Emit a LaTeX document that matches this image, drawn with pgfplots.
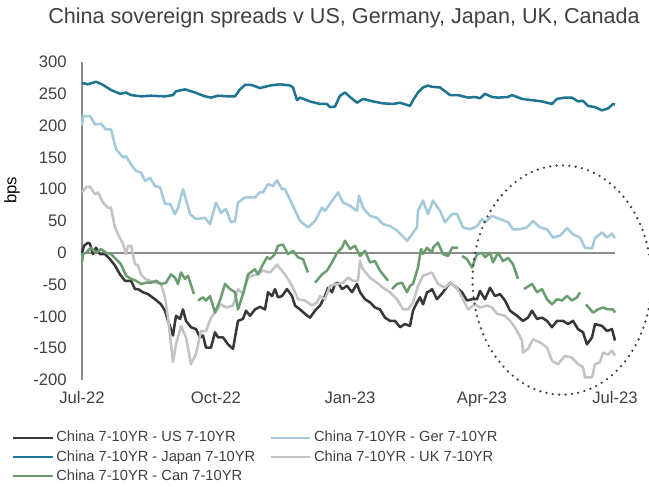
\documentclass[border=0pt]{standalone}
\usepackage{pgfplots}
\pgfplotsset{compat=1.18}
\usepackage{fontspec}
\setmainfont{Liberation Sans}
\definecolor{cUS}{HTML}{383838}
\definecolor{cGer}{HTML}{A3C9DB}
\definecolor{cJap}{HTML}{1F7591}
\definecolor{cUK}{HTML}{C3C3C3}
\definecolor{cCan}{HTML}{6C9D70}
\definecolor{axgray}{HTML}{8C8C8C}
\definecolor{txtgray}{HTML}{404040}
\begin{document}
\begin{tikzpicture}[x=1pt,y=1pt]
\useasboundingbox (0,0) rectangle (486.75,364.5);
\begin{axis}[
  at={(61.5pt,79.5pt)}, anchor=south west,
  scale only axis, width=399.75pt, height=238.5pt,
  xmin=0, xmax=533, ymin=-200, ymax=300,
  axis y line*=left, axis x line*=bottom,
  x axis line style={draw=none},
  y axis line style={draw=axgray, line width=1.1pt},
  xtick={0,134,268,400,533},
  xticklabels={Jul-22,Oct-22,Jan-23,Apr-23,Jul-23},
  ytick={-200,-150,-100,-50,0,50,100,150,200,250,300},
  major tick length=0pt,
  tick label style={font=\fontsize{12.5}{15}\selectfont, text=txtgray},
  /pgf/number format/assume math mode=true,
  yticklabel shift=8pt,
  xticklabel shift=5pt,
  unbounded coords=jump,
  clip=false,
  title={China sovereign spreads v US, Germany, Japan, UK, Canada},
  title style={at={(axis description cs:0.4916,1.113)}, anchor=center, font=\fontsize{16.2}{19}\selectfont, text=txtgray},
  ylabel={bps},
  ylabel style={at={(axis description cs:-0.131,0.597)}, anchor=center, rotate=0, font=\fontsize{12.5}{15}\selectfont, text=black},
  legend columns=2,
  legend style={at={(axis description cs:-0.1315,-0.152)}, anchor=north west, draw=none, fill=none,
    inner sep=0pt, font=\fontsize{11}{13}\selectfont, text=txtgray,
    cells={anchor=west}, row sep=1pt,
    /tikz/every even column/.append style={column sep=9pt}},
  legend image code/.code={\draw[#1, line width=1.6pt] (0pt,0pt) -- (29.5pt,0pt);},
  every axis plot/.append style={line width=1.9pt, line join=round},
]
\addplot[draw=axgray, line width=1.1pt, forget plot] coordinates {(0,0) (533,0)};
% China - US
\addplot[cUS] coordinates {
(0,0) (2,11) (6,16) (8,14) (10,3) (11,-2) (14,8) (18,-2) (23,-2) (28,-10) (33,-20) (38,-34) (43,-44) (49,-44) (53,-57) (56,-57) (61,-62) (66,-65) (73,-73) (79,-81) (83,-91) (86,-107) (91,-130) (94,-99) (98,-104) (101,-89) (104,-107) (109,-117) (114,-120) (118,-133) (121,-130) (124,-149) (129,-149) (133,-125) (136,-133) (141,-133) (146,-144) (151,-151) (156,-107) (161,-104) (164,-91) (168,-99) (173,-89) (178,-85) (183,-89) (186,-62) (190,-68) (193,-57) (196,-70) (200,-68) (205,-57) (210,-68) (213,-83) (218,-89) (223,-96) (228,-102) (233,-91) (238,-83) (243,-68) (246,-55) (250,-62) (253,-49) (256,-47) (260,-57) (265,-52) (270,-62) (275,-49) (278,-62) (283,-73) (288,-78) (293,-86) (298,-89) (303,-102) (308,-107) (313,-107) (318,-117) (323,-112) (328,-115) (331,-91) (335,-78) (338,-70) (341,-81) (345,-62) (348,-60) (350,-57) (355,-73) (361,-62) (368,-47) (375,-55) (380,-62) (385,-75) (390,-73) (395,-73) (398,-60) (403,-73) (408,-55) (413,-68) (418,-65) (423,-75) (428,-91) (435,-99) (441,-107) (446,-102) (450,-91) (455,-104) (460,-102) (465,-107) (470,-117) (475,-107) (481,-107) (486,-112) (491,-107) (496,-120) (501,-125) (505,-144) (510,-133) (513,-112) (520,-115) (525,-123) (530,-120) (533,-138)
};
\addlegendentry{China 7-10YR - US 7-10YR}
% China - Ger
\addplot[cGer] coordinates {
(0,200) (1,215) (8,215) (13,202) (19,203) (24,194) (29,194) (34,163) (41,150) (44,152) (49,139) (54,129) (59,126) (63,113) (68,118) (73,105) (78,103) (83,77) (88,77) (93,61) (96,71) (101,100) (108,61) (114,53) (123,55) (128,45) (134,79) (139,63) (144,69) (149,48) (153,50) (156,79) (163,87) (168,87) (173,87) (178,95) (181,95) (186,108) (191,105) (195,114) (200,100) (203,100) (210,77) (218,50) (226,40) (233,50) (240,71) (243,66) (248,77) (256,95) (261,79) (268,74) (275,66) (277,90) (281,71) (288,58) (295,55) (301,45) (308,42) (315,35) (320,27) (325,19) (328,25) (335,40) (336,66) (341,82) (346,61) (351,82) (358,66) (363,48) (370,61) (375,61) (381,40) (388,37) (395,42) (400,53) (403,48) (410,58) (418,53) (426,48) (431,37) (438,37) (445,40) (451,50) (458,40) (465,37) (471,24) (478,27) (485,39) (491,29) (498,24) (503,8) (510,7) (513,23) (520,32) (525,24) (530,30) (533,23)
};
\addlegendentry{China 7-10YR - Ger 7-10YR}
% China - Japan
\addplot[cJap] coordinates {
(0,267) (6,265) (14,269) (21,264) (29,256) (38,250) (44,252) (49,248) (59,246) (69,247) (83,246) (91,248) (94,254) (103,257) (113,252) (123,246) (129,244) (136,247) (146,246) (153,246) (158,257) (163,264) (169,264) (173,262) (178,259) (188,263) (198,265) (208,263) (211,260) (215,240) (218,244) (228,238) (238,234) (245,234) (248,229) (253,230) (258,247) (263,252) (268,245) (275,236) (281,242) (291,238) (301,235) (311,234) (318,236) (328,231) (331,240) (336,252) (341,260) (346,263) (350,261) (358,260) (363,254) (368,248) (376,248) (386,244) (393,245) (398,243) (403,250) (410,245) (416,244) (426,245) (430,248) (440,242) (450,240) (460,238) (470,234) (475,242) (483,244) (490,244) (496,238) (501,239) (506,231) (513,229) (520,224) (526,227) (531,234) (533,233)
};
\addlegendentry{China 7-10YR - Japan 7-10YR}
% China - UK
\addplot[cUK] coordinates {
(0,95) (4,103) (8,104) (13,92) (16,95) (21,79) (26,71) (29,71) (31,55) (33,40) (36,29) (41,14) (44,-2) (46,11) (49,11) (53,-18) (56,-20) (59,-34) (63,-41) (68,-44) (73,-47) (79,-49) (83,-70) (86,-102) (91,-172) (94,-144) (99,-115) (104,-133) (109,-175) (114,-159) (119,-123) (124,-123) (129,-102) (134,-91) (139,-81) (144,-86) (151,-83) (156,-57) (161,-65) (166,-39) (170,-36) (175,-34) (181,-28) (188,-31) (195,-19) (200,-28) (206,-41) (211,-55) (216,-73) (223,-75) (230,-83) (235,-78) (238,-68) (243,-73) (248,-52) (255,-49) (261,-47) (266,-39) (271,-44) (276,-44) (278,-13) (281,-26) (288,-39) (295,-47) (301,-55) (308,-62) (315,-73) (321,-89) (326,-89) (331,-78) (336,-52) (341,-36) (350,-31) (356,-49) (363,-55) (368,-47) (375,-55) (380,-70) (386,-89) (393,-81) (398,-86) (405,-83) (410,-86) (415,-96) (423,-99) (428,-107) (433,-117) (440,-138) (441,-157) (446,-151) (451,-136) (458,-141) (465,-149) (470,-170) (476,-175) (483,-162) (490,-165) (496,-175) (501,-180) (503,-196) (510,-196) (513,-175) (518,-172) (521,-157) (526,-160) (530,-154) (533,-162)
};
\addlegendentry{China 7-10YR - UK 7-10YR}
% China - Can
\addplot[cCan] coordinates {
(0,-15) (1,-2) (4,0) (9,8) (14,0) (19,6) (24,0) (29,-2) (34,-10) (39,-18) (44,-36) (49,-41) (54,-44) (59,-49) (64,-47) (69,-47) (74,-44) (79,-49) (84,-47) (89,-34) (93,-39) (96,-49) (99,-31) (103,-41) (106,-36) (112,-65) (114,nan) (116,-75) (121,-70) (124,-75) (128,-68) (133,-94) (138,-75) (143,-49) (148,-57) (153,-62) (156,-89) (161,-65) (166,-34) (171,-28) (173,-26) (176,-34) (181,-18) (185,-7) (188,-10) (193,-2) (196,11) (201,13) (206,-2) (211,3) (216,-7) (221,-10) (226,-31) (229,nan) (233,-47) (240,-34) (245,-28) (250,-15) (255,0) (260,8) (263,19) (268,6) (273,11) (278,-5) (283,3) (288,-15) (293,-13) (298,-28) (301,-34) (306,-44) (308,nan) (310,-57) (315,-49) (320,-47) (325,-62) (328,-52) (331,-49) (336,-23) (339,6) (341,-2) (345,8) (350,0) (351,8) (356,16) (361,-2) (366,-5) (370,8) (376,8) (378,nan) (380,-5) (385,-10) (390,-23) (395,-2) (400,0) (403,-7) (408,0) (411,-15) (416,0) (421,-13) (426,-8) (431,-18) (436,-41) (439,nan) (442,-57) (450,-49) (455,-62) (460,-57) (465,-73) (470,-81) (475,-73) (480,-75) (485,-68) (490,-75) (495,-70) (498,-62) (501,nan) (504,-81) (511,-94) (516,-89) (521,-86) (526,-89) (531,-89) (533,-94)
};
\addlegendentry{China 7-10YR - Can 7-10YR}
\end{axis}
\draw[draw=txtgray, line width=1.9pt, line cap=round, dash pattern=on 0pt off 4.8pt] (421.5,154.5) ellipse [x radius=67.1, y radius=86];
\end{tikzpicture}
\end{document}
